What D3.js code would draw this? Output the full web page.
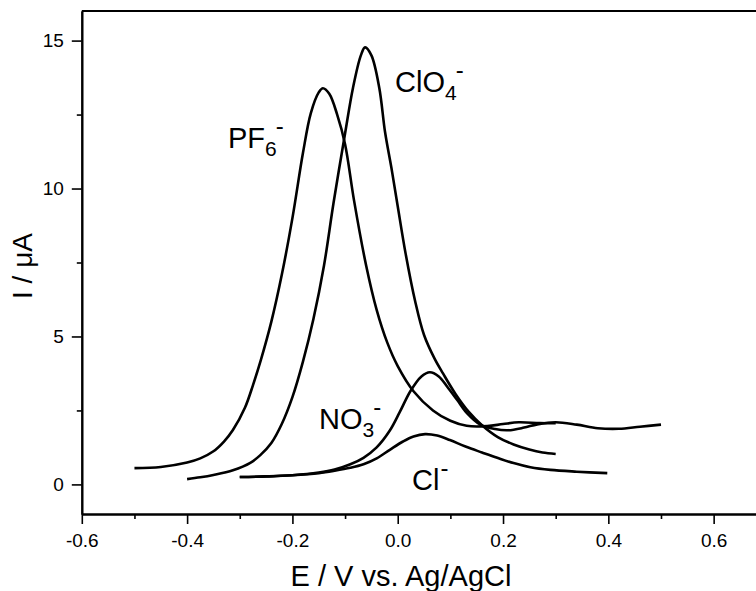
<!DOCTYPE html>
<html><head><meta charset="utf-8">
<script src="https://cdn.jsdelivr.net/npm/d3@7"></script>
<style>
body{margin:0;background:#fff;}
svg{display:block;}
text{font-family:"Liberation Sans",Arial,sans-serif;fill:#000;}
</style></head>
<body>
<svg id="c" width="756" height="591"></svg>
<script>
// ---- data (E / V, I / µA) ----
const pf6 = [[-0.50,0.55],[-0.45,0.59],[-0.40,0.74],[-0.375,0.88],[-0.35,1.12],[-0.33,1.45],[-0.313,1.84],[-0.29,2.6],[-0.275,3.35],[-0.26,4.2],[-0.24,5.5],[-0.22,7.1],[-0.20,9.0],[-0.18,11.2],[-0.165,12.55],[-0.15,13.25],[-0.142,13.39],[-0.13,13.2],[-0.115,12.5],[-0.10,11.5],[-0.083,9.6],[-0.06,7.4],[-0.04,5.9],[-0.02,4.8],[0.00,4.0],[0.03,3.15],[0.067,2.5],[0.10,2.15],[0.131,1.98],[0.17,1.97],[0.20,2.04],[0.23,2.1],[0.27,2.07],[0.30,2.07]];
const clo4 = [[-0.40,0.18],[-0.375,0.24],[-0.35,0.32],[-0.313,0.48],[-0.28,0.73],[-0.261,0.99],[-0.24,1.4],[-0.22,2.05],[-0.20,2.95],[-0.18,4.15],[-0.16,5.6],[-0.14,7.4],[-0.122,9.5],[-0.10,11.86],[-0.085,13.4],[-0.07,14.5],[-0.062,14.77],[-0.05,14.5],[-0.035,13.4],[-0.024,11.9],[-0.012,10.7],[0.00,9.4],[0.015,7.8],[0.033,6.2],[0.05,5.05],[0.07,4.25],[0.086,3.75],[0.11,3.05],[0.135,2.45],[0.16,2.0],[0.19,1.6],[0.22,1.35],[0.25,1.18],[0.275,1.08],[0.30,1.03]];
const no3 = [[-0.30,0.25],[-0.25,0.27],[-0.20,0.31],[-0.15,0.40],[-0.12,0.50],[-0.09,0.68],[-0.065,0.9],[-0.04,1.25],[-0.015,1.82],[0.004,2.45],[0.024,3.15],[0.045,3.65],[0.061,3.79],[0.078,3.65],[0.094,3.3],[0.113,2.85],[0.131,2.42],[0.157,2.02],[0.185,1.87],[0.21,1.83],[0.24,1.92],[0.265,2.03],[0.30,2.10],[0.34,2.02],[0.38,1.9],[0.42,1.88],[0.46,1.95],[0.50,2.02]];
const cl = [[-0.30,0.25],[-0.25,0.27],[-0.20,0.31],[-0.15,0.38],[-0.12,0.46],[-0.09,0.56],[-0.065,0.68],[-0.04,0.88],[-0.015,1.17],[0.01,1.45],[0.03,1.62],[0.052,1.70],[0.075,1.65],[0.099,1.50],[0.13,1.27],[0.16,1.08],[0.189,0.9],[0.22,0.72],[0.252,0.58],[0.29,0.49],[0.34,0.43],[0.398,0.38]];
const xMajor = [-0.6,-0.4,-0.2,0.0,0.2,0.4,0.6];
const xMinor = [-0.5,-0.3,-0.1,0.1,0.3,0.5];
const yMajor = [0,5,10,15];
const yMinor = [2.5,7.5,12.5];
const xTitle = "E / V vs. Ag/AgCl";

const svg = d3.select("#c");
const x = d3.scaleLinear().domain([-0.6,0.7]).range([81.8,766.3]);
const y = d3.scaleLinear().domain([-1,16]).range([514,11]);

// frame
svg.append("line").attr("x1",x(-0.6)).attr("x2",x(0.7)).attr("y1",y(16)).attr("y2",y(16)).attr("stroke","#000").attr("stroke-width",2);
svg.append("line").attr("x1",x(0.7)).attr("x2",x(0.7)).attr("y1",y(16)).attr("y2",y(-1)).attr("stroke","#000").attr("stroke-width",2);

// axes
const gx = svg.append("g").attr("transform",`translate(0,${y(-1)})`)
  .call(d3.axisBottom(x).tickValues(xMajor).tickSize(10).tickPadding(10).tickSizeOuter(0).tickFormat(d3.format(".1f")));
svg.append("g").attr("transform",`translate(0,${y(-1)})`)
  .call(d3.axisBottom(x).tickValues(xMinor).tickSize(5).tickSizeOuter(0).tickFormat(""));
const gy = svg.append("g").attr("transform",`translate(${x(-0.6)},0)`)
  .call(d3.axisLeft(y).tickValues(yMajor).tickSize(10).tickPadding(8).tickSizeOuter(0));
svg.append("g").attr("transform",`translate(${x(-0.6)},0)`)
  .call(d3.axisLeft(y).tickValues(yMinor).tickSize(5).tickSizeOuter(0).tickFormat(""));
svg.selectAll(".domain").attr("stroke-width",2);
svg.selectAll(".tick line").attr("stroke-width",1.6);
svg.selectAll(".tick text").attr("font-size",19).attr("font-family","'Liberation Sans',Arial,sans-serif");
gx.selectAll(".tick text").text(d=>d3.format(".1f")(d).replace("−","-"));

// curves
const line = d3.line().x(d=>x(d[0])).y(d=>y(d[1])).curve(d3.curveCatmullRom.alpha(0.5));
[pf6,clo4,no3,cl].forEach(s=>{
  svg.append("path").attr("d",line(s)).attr("fill","none").attr("stroke","#000").attr("stroke-width",2.6).attr("stroke-linejoin","round");
});

// titles
svg.append("text").attr("x",401).attr("y",586).attr("text-anchor","middle").attr("font-size",29).text(xTitle);
svg.append("text").attr("transform","translate(32,266) rotate(-90)").attr("text-anchor","middle").attr("font-size",28).text("I / \u03bcA");

// labels
function ionLabel(px,py,main,sub,supDx){
  const t = svg.append("text").attr("x",px).attr("y",py).attr("font-size",29);
  t.append("tspan").text(main);
  t.append("tspan").attr("font-size",21).attr("dy",8).text(sub);
  t.append("tspan").attr("font-size",24).attr("dy",-22).attr("dx",supDx).text("-");
}
ionLabel(228,148,"PF","6",-1);
ionLabel(395,92,"ClO","4",-1);
ionLabel(319,429,"NO","3",-1);
const tcl = svg.append("text").attr("x",412).attr("y",490).attr("font-size",29);
tcl.append("tspan").text("Cl");
tcl.append("tspan").attr("font-size",24).attr("dy",-14).attr("dx",1).text("-");
</script>
</body></html>
